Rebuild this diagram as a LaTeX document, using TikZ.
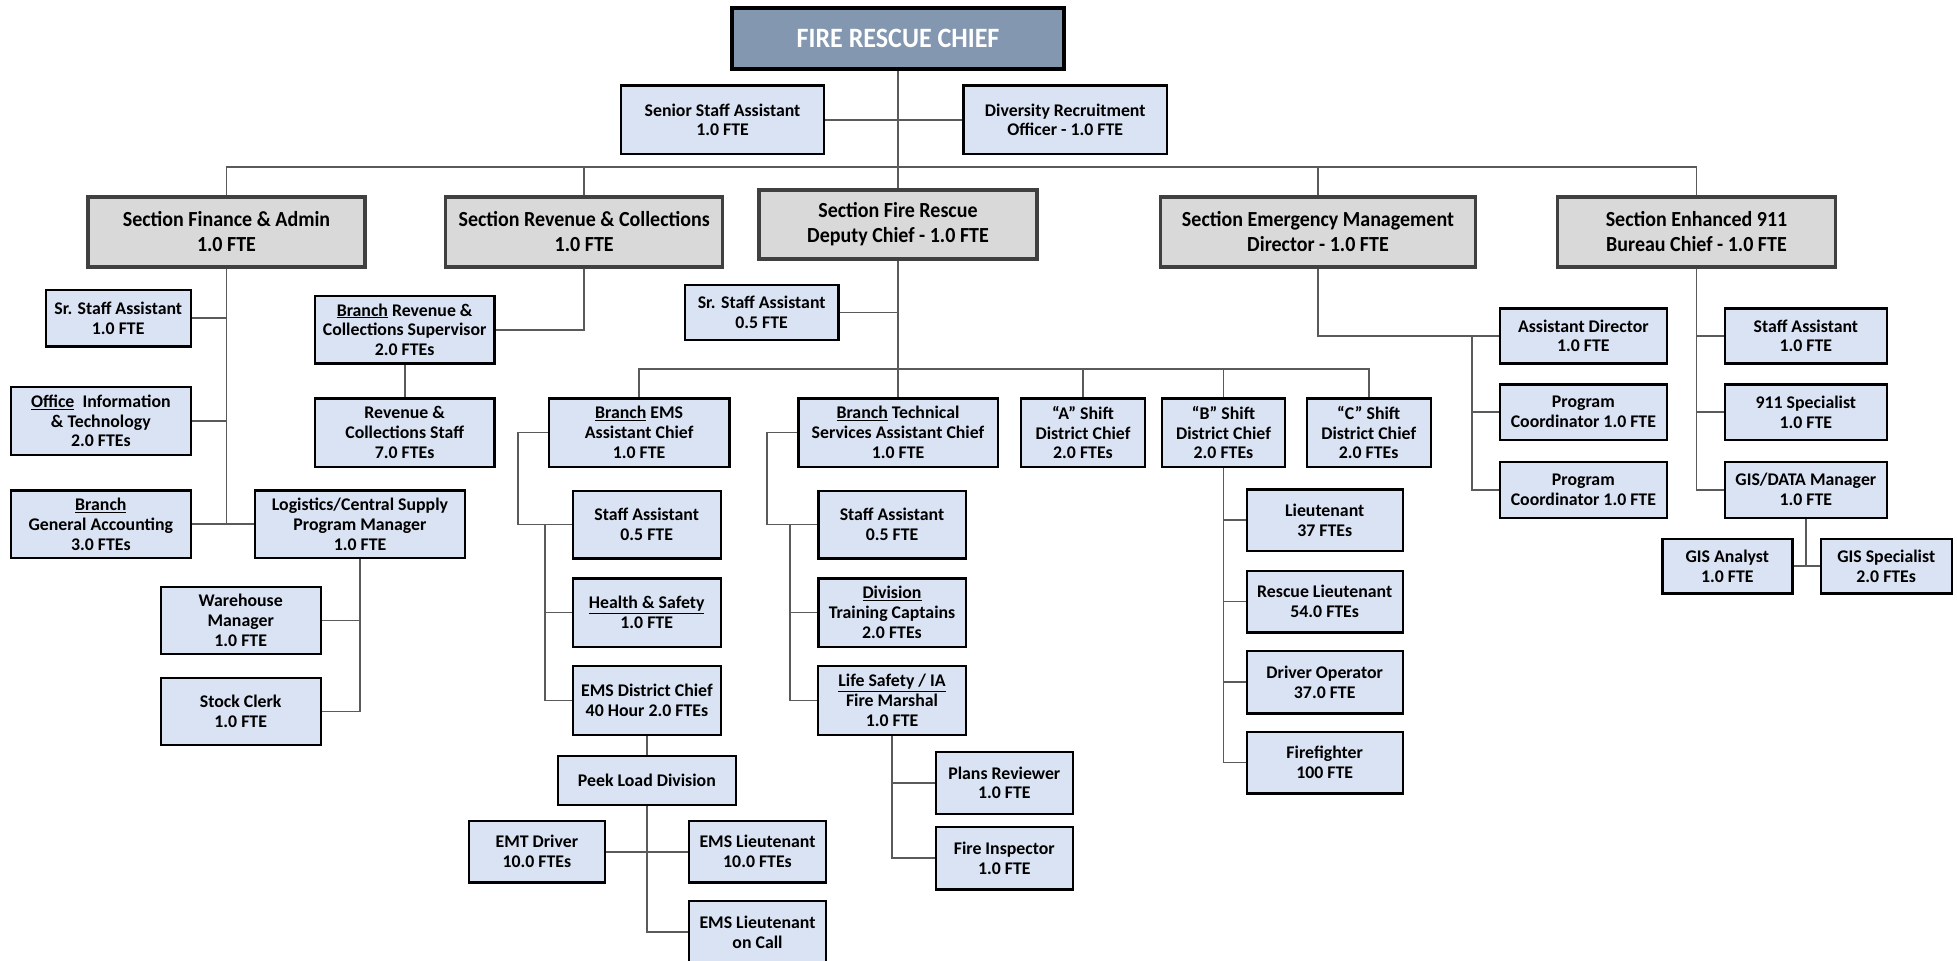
\documentclass[tikz,border=0pt]{standalone}
\usepackage{fontspec}
\setmainfont{Carlito}
\newfontfamily\secfont[FakeStretch=0.93]{Carlito}
\usetikzlibrary{calc}
\definecolor{boxblue}{HTML}{DAE3F3}
\definecolor{secgray}{HTML}{D9D9D9}
\definecolor{chiefblue}{HTML}{8497B0}
\definecolor{linegray}{HTML}{5A5A5A}
\definecolor{secborder}{HTML}{404040}
\tikzset{
  conn/.style={draw=linegray, line width=1.7pt},
  sz/.style 2 args={minimum width=#1pt, minimum height=#2pt},
  bbox/.style={draw=black, line width=2.4pt, fill=boxblue, align=center, inner sep=0pt,
    font=\fontsize{17.8}{19.8}\selectfont\bfseries},
  sbox/.style={draw=secborder, line width=3.5pt, fill=secgray, align=center, inner sep=0pt,
    font=\secfont\fontsize{21.5}{25}\selectfont\bfseries},
  cbox/.style={draw=black, line width=4pt, fill=chiefblue, text=white, align=center, inner sep=0pt,
    font=\secfont\fontsize{28}{32}\selectfont\bfseries},
}
\begin{document}
\begin{tikzpicture}[x=1pt,y=-1pt]
\useasboundingbox (0,0) rectangle (1957,961);
% top
\node[cbox, sz={332}{61}] (chief) at (898,38) {FIRE RESCUE CHIEF};
\node[bbox, sz={203}{68.5}] (senior) at (722.5,119.75) {Senior Staff Assistant\\1.0 FTE};
\node[bbox, sz={203.5}{68.5}] (diversity) at (1065.25,119.75) {Diversity Recruitment\\Officer - 1.0 FTE};
% sections
\node[sbox, sz={277}{70}] (secFin) at (226.5,232) {Section Finance \& Admin\\1.0 FTE};
\node[sbox, sz={277}{70}] (secRev) at (584.2,232) {Section Revenue \& Collections\\1.0 FTE};
\node[sbox, sz={278}{69}] (secFire) at (898,224.5) {Section Fire Rescue\\Deputy Chief - 1.0 FTE};
\node[sbox, sz={315}{70}] (secEM) at (1318,232) {Section Emergency Management\\Director - 1.0 FTE};
\node[sbox, sz={277.6}{70}] (sec911) at (1696.5,232) {Section Enhanced 911\\Bureau Chief - 1.0 FTE};
% finance
\node[bbox, sz={145}{56.7}] (srFin) at (118.2,318.3) {Sr. Staff Assistant\\1.0 FTE};
\node[bbox, sz={179.7}{68}] (office) at (100.85,421) {\underline{Office}\ \ Information\\\& Technology\\2.0 FTEs};
\node[bbox, sz={179.7}{67.3}] (genAcc) at (100.85,524.3) {\underline{Branch}\\General Accounting\\3.0 FTEs};
\node[bbox, sz={210}{67.3}] (logistics) at (360,524.3) {Logistics/Central Supply\\Program Manager\\1.0 FTE};
\node[bbox, sz={160}{67}] (warehouse) at (240.7,620.5) {Warehouse\\Manager\\1.0 FTE};
\node[bbox, sz={160}{67}] (stock) at (240.7,711.5) {Stock Clerk\\1.0 FTE};
% revenue
\node[bbox, sz={179.3}{67.3}] (supervisor) at (404.65,329.65) {\underline{Branch} Revenue \&\\Collections Supervisor\\2.0 FTEs};
\node[bbox, sz={179.3}{68.4}] (revStaff) at (404.65,432.5) {Revenue \&\\Collections Staff\\7.0 FTEs};
% fire rescue
\node[bbox, sz={153.3}{55}] (srFire) at (761.65,312.5) {Sr. Staff Assistant\\0.5 FTE};
\node[bbox, sz={180.3}{68.4}] (emsBr) at (639.15,432.5) {\underline{Branch} EMS\\Assistant Chief\\1.0 FTE};
\node[bbox, sz={199.4}{68.4}] (techBr) at (898,432.5) {\underline{Branch} Technical\\Services Assistant Chief\\1.0 FTE};
\node[bbox, sz={124.3}{68.4}] (aShift) at (1083,432.5) {“A” Shift\\District Chief\\2.0 FTEs};
\node[bbox, sz={123.3}{68.4}] (bShift) at (1223.5,432.5) {“B” Shift\\District Chief\\2.0 FTEs};
\node[bbox, sz={124}{68.4}] (cShift) at (1368.7,432.5) {“C” Shift\\District Chief\\2.0 FTEs};
% EMS
\node[bbox, sz={148}{67.6}] (emsStaff) at (646.7,524.5) {Staff Assistant\\0.5 FTE};
\node[bbox, sz={148}{68.4}] (health) at (646.7,612.5) {\underline{Health \& Safety}\\1.0 FTE};
\node[bbox, sz={148}{69}] (emsDist) at (646.9,700.5) {EMS District Chief\\40 Hour 2.0 FTEs};
\node[bbox, sz={178}{49}] (peek) at (646.9,780.5) {Peek Load Division};
\node[bbox, sz={135.7}{61.3}] (emtDriver) at (536.85,851.65) {EMT Driver\\10.0 FTEs};
\node[bbox, sz={137}{61.3}] (emsLt) at (757.5,851.65) {EMS Lieutenant\\10.0 FTEs};
\node[bbox, sz={137}{62}] (emsLtCall) at (757.5,932) {EMS Lieutenant\\on Call};
% technical
\node[bbox, sz={147.4}{67.6}] (techStaff) at (892,524.5) {Staff Assistant\\0.5 FTE};
\node[bbox, sz={147.4}{68.4}] (training) at (892,612.5) {\underline{Division}\\Training Captains\\2.0 FTEs};
\node[bbox, sz={148}{69}] (lifeSafety) at (892,700.5) {\underline{Life Safety / IA}\\Fire Marshal\\1.0 FTE};
\node[bbox, sz={137}{62.3}] (plans) at (1004.3,782.85) {Plans Reviewer\\1.0 FTE};
\node[bbox, sz={137}{62.6}] (inspector) at (1004.3,858) {Fire Inspector\\1.0 FTE};
% B shift
\node[bbox, sz={156}{61.4}] (lieutenant) at (1324.7,520) {Lieutenant\\37 FTEs};
\node[bbox, sz={156}{61.6}] (rescueLt) at (1324.7,601.5) {Rescue Lieutenant\\54.0 FTEs};
\node[bbox, sz={156}{62.3}] (driverOp) at (1324.7,682.15) {Driver Operator\\37.0 FTE};
\node[bbox, sz={156}{61.6}] (firefighter) at (1324.7,762.5) {Firefighter\\100 FTE};
% EM
\node[bbox, sz={166.7}{55}] (asstDir) at (1583.35,335.8) {Assistant Director\\1.0 FTE};
\node[bbox, sz={166.7}{55.7}] (progCo1) at (1583.35,412.15) {Program\\Coordinator 1.0 FTE};
\node[bbox, sz={166.7}{56}] (progCo2) at (1583.35,489.7) {Program\\Coordinator 1.0 FTE};
% 911
\node[bbox, sz={161.7}{55}] (staff911) at (1805.85,335.8) {Staff Assistant\\1.0 FTE};
\node[bbox, sz={161.7}{55.7}] (spec911) at (1805.85,412.15) {911 Specialist\\1.0 FTE};
\node[bbox, sz={161.7}{56}] (gisMgr) at (1805.85,489.7) {GIS/DATA Manager\\1.0 FTE};
\node[bbox, sz={130}{54.3}] (gisAnalyst) at (1727.3,566.15) {GIS Analyst\\1.0 FTE};
\node[bbox, sz={131}{54.3}] (gisSpec) at (1886.2,566.15) {GIS Specialist\\2.0 FTEs};
% bus coordinates
\coordinate (bus1) at (898,167.3);
\coordinate (bus2) at (898,369);
\coordinate (emsTrunk) at (545,524.5);
\coordinate (techTrunk) at (790,524.5);
\coordinate (emTrunk) at (1472.3,335.8);
% connectors
\begin{scope}[conn]
\draw (chief.south) -- (secFire.north);
\draw (senior.east) -- (diversity.west);
\draw (secFin.north) |- (bus1) -| (sec911.north);
\draw (secRev.north) -- (secRev.north |- bus1);
\draw (secEM.north) -- (secEM.north |- bus1);
% finance
\draw (secFin.south) |- (srFin.east);
\draw (secFin.south) |- (office.east);
\draw (secFin.south) -- (secFin.south |- genAcc.east);
\draw (genAcc.east) -- (logistics.west);
\draw (logistics.south) |- (warehouse.east);
\draw (logistics.south) |- (stock.east);
% revenue
\draw (secRev.south) |- (supervisor.east);
\draw (supervisor.south) -- (revStaff.north);
% fire rescue
\draw (secFire.south) -- (techBr.north);
\draw (srFire.east) -- (srFire.east -| secFire.south);
\draw (emsBr.north) |- (bus2) -| (cShift.north);
\draw (aShift.north) -- (aShift.north |- bus2);
\draw (bShift.north) -- (bShift.north |- bus2);
% EMS
\draw (emsBr.west) -- ++(-30,0) |- (emsStaff.west);
\draw (emsTrunk) |- (health.west);
\draw (emsTrunk) |- (emsDist.west);
\draw (emsDist.south) -- (peek.north);
\draw (peek.south) |- (emsLtCall.west);
\draw (emtDriver.east) -- (emsLt.west);
% technical
\draw (techBr.west) -- ++(-30,0) |- (techStaff.west);
\draw (techTrunk) |- (training.west);
\draw (techTrunk) |- (lifeSafety.west);
\draw (lifeSafety.south) |- (plans.west);
\draw (lifeSafety.south) |- (inspector.west);
% B shift
\draw (bShift.south) |- (lieutenant.west);
\draw (bShift.south) |- (rescueLt.west);
\draw (bShift.south) |- (driverOp.west);
\draw (bShift.south) |- (firefighter.west);
% EM
\draw (secEM.south) |- (asstDir.west);
\draw (emTrunk) |- (progCo1.west);
\draw (emTrunk) |- (progCo2.west);
% 911
\draw (sec911.south) |- (staff911.west);
\draw (sec911.south) |- (spec911.west);
\draw (sec911.south) |- (gisMgr.west);
\draw (gisMgr.south) -- (gisMgr.south |- gisAnalyst.east);
\draw (gisAnalyst.east) -- (gisSpec.west);
\end{scope}
\end{tikzpicture}
\end{document}
